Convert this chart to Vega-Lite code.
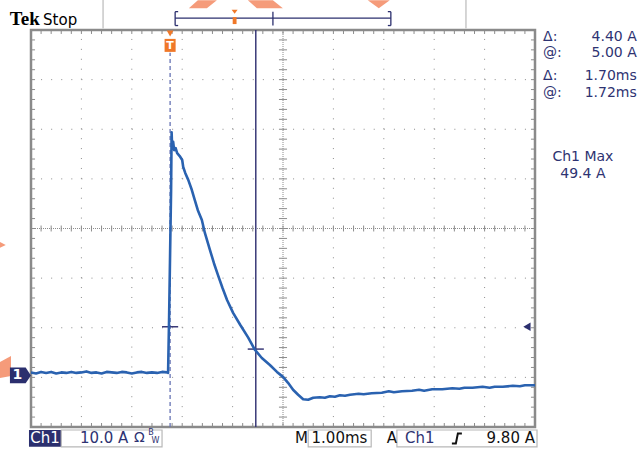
{
  "$schema": "https://vega.github.io/schema/vega-lite/v6.json",
  "width": 504,
  "height": 397,
  "autosize": "none",
  "padding": {"left": 31, "top": 30, "right": 108, "bottom": 22},
  "background": "#ffffff",
  "config": {"view": {"stroke": null}, "axis": {"disable": true}, "text": {"font": "DejaVu Sans"}},
  "datasets": {
    "gx": [{"v": 1}, {"v": 2}, {"v": 3}, {"v": 4}, {"v": 6}, {"v": 7}, {"v": 8}, {"v": 9}],
    "gy": [{"v": 0}, {"v": 10}, {"v": 20}, {"v": 40}, {"v": 50}, {"v": 60}],
    "xt": [{"v": 0.2}, {"v": 0.4}, {"v": 0.6}, {"v": 0.8}, {"v": 1}, {"v": 1.2}, {"v": 1.4}, {"v": 1.6}, {"v": 1.8}, {"v": 2}, {"v": 2.2}, {"v": 2.4}, {"v": 2.6}, {"v": 2.8}, {"v": 3}, {"v": 3.2}, {"v": 3.4}, {"v": 3.6}, {"v": 3.8}, {"v": 4}, {"v": 4.2}, {"v": 4.4}, {"v": 4.6}, {"v": 4.8}, {"v": 5}, {"v": 5.2}, {"v": 5.4}, {"v": 5.6}, {"v": 5.8}, {"v": 6}, {"v": 6.2}, {"v": 6.4}, {"v": 6.6}, {"v": 6.8}, {"v": 7}, {"v": 7.2}, {"v": 7.4}, {"v": 7.6}, {"v": 7.8}, {"v": 8}, {"v": 8.2}, {"v": 8.4}, {"v": 8.6}, {"v": 8.8}, {"v": 9}, {"v": 9.2}, {"v": 9.4}, {"v": 9.6}, {"v": 9.8}],
    "yt": [{"v": -8}, {"v": -6}, {"v": -4}, {"v": -2}, {"v": 0}, {"v": 2}, {"v": 4}, {"v": 6}, {"v": 8}, {"v": 10}, {"v": 12}, {"v": 14}, {"v": 16}, {"v": 18}, {"v": 20}, {"v": 22}, {"v": 24}, {"v": 26}, {"v": 28}, {"v": 30}, {"v": 32}, {"v": 34}, {"v": 36}, {"v": 38}, {"v": 40}, {"v": 42}, {"v": 44}, {"v": 46}, {"v": 48}, {"v": 50}, {"v": 52}, {"v": 54}, {"v": 56}, {"v": 58}, {"v": 60}, {"v": 62}, {"v": 64}, {"v": 66}, {"v": 68}],
    "wave": [
      {"t": 0, "a": 1.0}, {"t": 0.1, "a": 0.8}, {"t": 0.2, "a": 1.1}, {"t": 0.3, "a": 0.9}, {"t": 0.4, "a": 1.1}, {"t": 0.5, "a": 0.8}, {"t": 0.6, "a": 1.0}, {"t": 0.7, "a": 0.9}, {"t": 0.8, "a": 1.1}, {"t": 0.9, "a": 0.9},
      {"t": 1.0, "a": 1.0}, {"t": 1.1, "a": 1.2}, {"t": 1.2, "a": 0.9}, {"t": 1.3, "a": 1.0}, {"t": 1.4, "a": 0.8}, {"t": 1.5, "a": 1.1}, {"t": 1.6, "a": 1.0}, {"t": 1.7, "a": 0.9}, {"t": 1.8, "a": 1.1}, {"t": 1.9, "a": 1.0},
      {"t": 2.0, "a": 0.8}, {"t": 2.1, "a": 1.0}, {"t": 2.2, "a": 1.1}, {"t": 2.3, "a": 0.9}, {"t": 2.4, "a": 1.0}, {"t": 2.5, "a": 0.9}, {"t": 2.6, "a": 1.1}, {"t": 2.7, "a": 1.0}, {"t": 2.72, "a": 0.9},
      {"t": 2.74, "a": 12}, {"t": 2.76, "a": 25}, {"t": 2.78, "a": 38}, {"t": 2.79, "a": 49.4}, {"t": 2.80, "a": 46.5}, {"t": 2.82, "a": 47.5}, {"t": 2.84, "a": 45.8}, {"t": 2.87, "a": 46.2}, {"t": 2.90, "a": 45.2},
      {"t": 2.95, "a": 44.6}, {"t": 3.00, "a": 43.8}, {"t": 3.02, "a": 42.4}, {"t": 3.06, "a": 41.2}, {"t": 3.12, "a": 39.8}, {"t": 3.19, "a": 37.8}, {"t": 3.25, "a": 35.7}, {"t": 3.31, "a": 33.7}, {"t": 3.39, "a": 31.7}, {"t": 3.45, "a": 29.1},
      {"t": 3.55, "a": 25.7}, {"t": 3.63, "a": 23.0}, {"t": 3.71, "a": 20.6}, {"t": 3.80, "a": 18.0}, {"t": 3.89, "a": 15.6}, {"t": 4.01, "a": 13.0}, {"t": 4.15, "a": 10.6}, {"t": 4.31, "a": 8.0}, {"t": 4.44, "a": 5.6}, {"t": 4.58, "a": 3.9},
      {"t": 4.74, "a": 2.5}, {"t": 4.88, "a": 1.1}, {"t": 5.00, "a": 0.1}, {"t": 5.10, "a": -1.1}, {"t": 5.20, "a": -2.5}, {"t": 5.30, "a": -3.5}, {"t": 5.40, "a": -4.4}, {"t": 5.50, "a": -4.5}, {"t": 5.60, "a": -4.1}, {"t": 5.73, "a": -4.0},
      {"t": 5.83, "a": -4.1}, {"t": 5.93, "a": -3.8}, {"t": 6.03, "a": -3.9}, {"t": 6.13, "a": -3.6}, {"t": 6.23, "a": -3.7}, {"t": 6.33, "a": -3.5}, {"t": 6.5, "a": -3.3}, {"t": 6.6, "a": -3.4}, {"t": 6.76, "a": -3.2}, {"t": 6.96, "a": -3.1},
      {"t": 7.1, "a": -2.8}, {"t": 7.2, "a": -3.0}, {"t": 7.36, "a": -2.8}, {"t": 7.56, "a": -2.7}, {"t": 7.7, "a": -2.5}, {"t": 7.8, "a": -2.7}, {"t": 7.96, "a": -2.4}, {"t": 8.16, "a": -2.4}, {"t": 8.36, "a": -2.2}, {"t": 8.5, "a": -2.3},
      {"t": 8.6, "a": -2.1}, {"t": 8.76, "a": -2.1}, {"t": 8.96, "a": -1.9}, {"t": 9.1, "a": -2.1}, {"t": 9.2, "a": -1.9}, {"t": 9.36, "a": -1.9}, {"t": 9.56, "a": -1.7}, {"t": 9.7, "a": -1.8}, {"t": 9.8, "a": -1.6}, {"t": 10.0, "a": -1.6}
    ]
  },
  "layer": [
    {
      "data": {"name": "gx"},
      "mark": {"type": "rule", "stroke": "#8c8c8c", "strokeWidth": 1, "strokeDash": [1, 8.925]},
      "encoding": {
        "x": {"field": "v", "type": "quantitative", "scale": {"domain": [0, 10], "nice": false, "zero": false}},
        "y": {"datum": -10, "type": "quantitative", "scale": {"domain": [-10, 70], "nice": false, "zero": false}},
        "y2": {"datum": 70}
      }
    },
    {
      "data": {"name": "gy"},
      "mark": {"type": "rule", "stroke": "#8c8c8c", "strokeWidth": 1, "strokeDash": [1, 9.08]},
      "encoding": {"y": {"field": "v", "type": "quantitative"}, "x": {"datum": 0, "type": "quantitative"}, "x2": {"datum": 10}}
    },
    {
      "data": {"values": [{}]},
      "mark": {"type": "rule", "stroke": "#8c8c8c", "strokeWidth": 1, "strokeDash": [1, 1]},
      "encoding": {"x": {"datum": 5, "type": "quantitative"}, "y": {"datum": -10, "type": "quantitative"}, "y2": {"datum": 70}}
    },
    {
      "data": {"values": [{}]},
      "mark": {"type": "rule", "stroke": "#8c8c8c", "strokeWidth": 1, "strokeDash": [1, 1]},
      "encoding": {"y": {"datum": 30, "type": "quantitative"}, "x": {"datum": 0, "type": "quantitative"}, "x2": {"datum": 10}}
    },
    {
      "data": {"name": "xt"},
      "mark": {"type": "rule", "stroke": "#8c8c8c", "strokeWidth": 1},
      "encoding": {"x": {"field": "v", "type": "quantitative"}, "y": {"datum": 29.4, "type": "quantitative"}, "y2": {"datum": 30.6}}
    },
    {
      "data": {"name": "xt"},
      "mark": {"type": "rule", "stroke": "#8c8c8c", "strokeWidth": 1},
      "encoding": {"x": {"field": "v", "type": "quantitative"}, "y": {"datum": 70, "type": "quantitative"}, "y2": {"datum": 69.2}}
    },
    {
      "data": {"name": "xt"},
      "mark": {"type": "rule", "stroke": "#8c8c8c", "strokeWidth": 1},
      "encoding": {"x": {"field": "v", "type": "quantitative"}, "y": {"datum": -10, "type": "quantitative"}, "y2": {"datum": -9.2}}
    },
    {
      "data": {"name": "yt"},
      "mark": {"type": "rule", "stroke": "#8c8c8c", "strokeWidth": 1},
      "encoding": {"y": {"field": "v", "type": "quantitative"}, "x": {"datum": 4.92, "type": "quantitative"}, "x2": {"datum": 5.08}}
    },
    {
      "data": {"name": "yt"},
      "mark": {"type": "rule", "stroke": "#8c8c8c", "strokeWidth": 1},
      "encoding": {"y": {"field": "v", "type": "quantitative"}, "x": {"datum": 0, "type": "quantitative"}, "x2": {"datum": 0.08}}
    },
    {
      "data": {"name": "yt"},
      "mark": {"type": "rule", "stroke": "#8c8c8c", "strokeWidth": 1},
      "encoding": {"y": {"field": "v", "type": "quantitative"}, "x": {"datum": 10, "type": "quantitative"}, "x2": {"datum": 9.92}}
    },
    {
      "data": {"values": [{}]},
      "mark": {"type": "rect", "fillOpacity": 0, "stroke": "#8a8a8a", "strokeWidth": 2.5},
      "encoding": {"x": {"datum": 0, "type": "quantitative"}, "x2": {"datum": 10}, "y": {"datum": -10, "type": "quantitative"}, "y2": {"datum": 70}}
    },
    {
      "data": {"values": [{"x": 1.43}, {"x": 8.63}]},
      "mark": {"type": "rule", "stroke": "#c8c8c8", "strokeWidth": 1.5},
      "encoding": {"x": {"field": "x", "type": "quantitative"}, "y": {"datum": 70.3, "type": "quantitative"}, "y2": {"datum": 76.1}}
    },
    {
      "data": {"values": [{}]},
      "mark": {"type": "rule", "stroke": "#6674b4", "strokeWidth": 1.3, "strokeDash": [4, 3]},
      "encoding": {"x": {"datum": 2.76, "type": "quantitative"}, "y": {"datum": -10, "type": "quantitative"}, "y2": {"datum": 65.4}}
    },
    {
      "data": {"values": [{}]},
      "mark": {"type": "rule", "stroke": "#3a3a78", "strokeWidth": 1.5},
      "encoding": {"x": {"datum": 4.46, "type": "quantitative"}, "y": {"datum": -10, "type": "quantitative"}, "y2": {"datum": 70}}
    },
    {
      "data": {"values": [{"c": "trigger", "t0": 2.6, "t1": 2.92, "a": 10.2}, {"c": "cursor", "t0": 4.3, "t1": 4.62, "a": 5.7}]},
      "mark": {"type": "rule", "stroke": "#3a3a78", "strokeWidth": 1.5},
      "encoding": {"x": {"field": "t0", "type": "quantitative"}, "x2": {"field": "t1"}, "y": {"field": "a", "type": "quantitative"}}
    },
    {
      "data": {"name": "wave"},
      "mark": {"type": "line", "stroke": "#2a62b0", "strokeWidth": 2.6, "strokeJoin": "round"},
      "encoding": {"x": {"field": "t", "type": "quantitative"}, "y": {"field": "a", "type": "quantitative"}, "order": {"field": "t"}}
    },
    {
      "data": {"values": [{}]},
      "mark": {"type": "point", "shape": "M-1,0.286L-0.357,-0.286L1,-0.286L0.286,0.286Z", "size": 784, "filled": true, "fill": "#f59b7a", "opacity": 1, "strokeWidth": 0},
      "encoding": {"x": {"datum": 3.41, "type": "quantitative"}, "y": {"datum": 75.2, "type": "quantitative"}}
    },
    {
      "data": {"values": [{}]},
      "mark": {"type": "point", "shape": "M-1,-0.229L0.429,-0.229L1,0.229L-0.486,0.229Z", "size": 1225, "filled": true, "fill": "#f59b7a", "opacity": 1, "strokeWidth": 0},
      "encoding": {"x": {"datum": 4.65, "type": "quantitative"}, "y": {"datum": 75.2, "type": "quantitative"}}
    },
    {
      "data": {"values": [{}]},
      "mark": {"type": "point", "shape": "M-1,-0.364L1,-0.364L0,0.364Z", "size": 484, "filled": true, "fill": "#f59b7a", "opacity": 1, "strokeWidth": 0},
      "encoding": {"x": {"datum": 6.9, "type": "quantitative"}, "y": {"datum": 75.2, "type": "quantitative"}}
    },
    {
      "data": {"values": [{}]},
      "mark": {"type": "point", "shape": "M-0.458,-0.5L0.458,-1L0.458,0.667L-0.458,0.833Z", "size": 576, "filled": true, "fill": "#f59b7a", "opacity": 1, "strokeWidth": 0},
      "encoding": {"x": {"datum": -0.506, "type": "quantitative"}, "y": {"datum": 1.9, "type": "quantitative"}}
    },
    {
      "data": {"values": [{}]},
      "mark": {"type": "point", "shape": "M-1,-1L1,0L-1,1Z", "size": 64, "filled": true, "fill": "#f59b7a", "opacity": 1, "strokeWidth": 0},
      "encoding": {"x": {"datum": -0.58, "type": "quantitative"}, "y": {"datum": 26.7, "type": "quantitative"}}
    },
    {
      "data": {"values": [{}]},
      "mark": {"type": "point", "shape": "M-1,-0.75L0.5,-0.75L1,0L0.5,0.75L-1,0.75Z", "size": 441, "filled": true, "fill": "#2b2f6e", "opacity": 1, "strokeWidth": 0},
      "encoding": {"x": {"datum": -0.21, "type": "quantitative"}, "y": {"datum": 0.4, "type": "quantitative"}}
    },
    {
      "data": {"values": [{}]},
      "mark": {"type": "text", "text": "1", "color": "#ffffff", "fontSize": 14, "fontWeight": "bold", "align": "center", "baseline": "middle"},
      "encoding": {"x": {"datum": -0.27, "type": "quantitative"}, "y": {"datum": 0.4, "type": "quantitative"}}
    },
    {
      "data": {"values": [{}]},
      "mark": {"type": "point", "shape": "triangle-left", "size": 70, "filled": true, "fill": "#2b2f6e", "opacity": 1, "strokeWidth": 0},
      "encoding": {"x": {"datum": 9.84, "type": "quantitative"}, "y": {"datum": 10.2, "type": "quantitative"}}
    },
    {
      "data": {"values": [{}]},
      "mark": {"type": "point", "shape": "triangle-down", "size": 45, "filled": true, "fill": "#f07828", "opacity": 1, "strokeWidth": 0},
      "encoding": {"x": {"datum": 2.76, "type": "quantitative"}, "y": {"datum": 69.3, "type": "quantitative"}}
    },
    {
      "data": {"values": [{}]},
      "mark": {"type": "point", "shape": "M-0.85,-1L0.85,-1L0.85,1L-0.85,1Z", "size": 169, "filled": true, "fill": "#f07828", "opacity": 1, "strokeWidth": 0},
      "encoding": {"x": {"datum": 2.76, "type": "quantitative"}, "y": {"datum": 66.9, "type": "quantitative"}}
    },
    {
      "data": {"values": [{}]},
      "mark": {"type": "text", "text": "T", "color": "#ffffff", "fontSize": 11, "fontWeight": "bold", "align": "center", "baseline": "middle"},
      "encoding": {"x": {"datum": 2.76, "type": "quantitative"}, "y": {"datum": 66.8, "type": "quantitative"}}
    },
    {
      "data": {"values": [{}]},
      "mark": {"type": "rule", "stroke": "#2b2f6e", "strokeWidth": 1.3},
      "encoding": {"x": {"datum": 2.86, "type": "quantitative"}, "x2": {"datum": 7.14}, "y": {"datum": 72.4, "type": "quantitative"}}
    },
    {
      "data": {"values": [{"x": 2.86}, {"x": 4.8}, {"x": 7.14}]},
      "mark": {"type": "rule", "stroke": "#2b2f6e", "strokeWidth": 1.3},
      "encoding": {"x": {"field": "x", "type": "quantitative"}, "y": {"datum": 70.9, "type": "quantitative"}, "y2": {"datum": 73.7}}
    },
    {
      "data": {"values": [{"x0": 2.86, "x1": 2.92, "y": 73.7}, {"x0": 2.86, "x1": 2.92, "y": 70.9}, {"x0": 7.08, "x1": 7.14, "y": 73.7}, {"x0": 7.08, "x1": 7.14, "y": 70.9}]},
      "mark": {"type": "rule", "stroke": "#2b2f6e", "strokeWidth": 1.3},
      "encoding": {"x": {"field": "x0", "type": "quantitative"}, "x2": {"field": "x1"}, "y": {"field": "y", "type": "quantitative"}}
    },
    {
      "data": {"values": [{}]},
      "mark": {"type": "point", "shape": "M-0.55,-1L0.55,-1L0.55,1L-0.55,1Z", "size": 49, "filled": true, "fill": "#f07828", "opacity": 1, "strokeWidth": 0},
      "encoding": {"x": {"datum": 4.04, "type": "quantitative"}, "y": {"datum": 71.9, "type": "quantitative"}}
    },
    {
      "data": {"values": [{}]},
      "mark": {"type": "point", "shape": "M-1,-1L1,-1L0,0.4Z", "size": 36, "filled": true, "fill": "#f07828", "opacity": 1, "strokeWidth": 0},
      "encoding": {"x": {"datum": 4.04, "type": "quantitative"}, "y": {"datum": 73.5, "type": "quantitative"}}
    },
    {
      "data": {"values": [{}]},
      "mark": {"type": "text", "text": "Tek", "font": "Liberation Serif", "fontWeight": "bold", "fontSize": 19, "color": "#000000", "align": "left", "baseline": "alphabetic"},
      "encoding": {"x": {"datum": -0.42, "type": "quantitative"}, "y": {"datum": 71.0, "type": "quantitative"}}
    },
    {
      "data": {"values": [{}]},
      "mark": {"type": "text", "text": "Stop", "fontSize": 15, "color": "#000000", "align": "left", "baseline": "alphabetic"},
      "encoding": {"x": {"datum": 0.24, "type": "quantitative"}, "y": {"datum": 71.0, "type": "quantitative"}}
    },
    {
      "data": {"values": [{}]},
      "mark": {"type": "text", "text": "Δ:", "fontSize": 14, "color": "#2e3372", "align": "left", "baseline": "middle"},
      "encoding": {"x": {"datum": 10.16, "type": "quantitative"}, "y": {"datum": 68.6, "type": "quantitative"}}
    },
    {
      "data": {"values": [{}]},
      "mark": {"type": "text", "text": "4.40 A", "fontSize": 14, "color": "#2e3372", "align": "right", "baseline": "middle"},
      "encoding": {"x": {"datum": 12.02, "type": "quantitative"}, "y": {"datum": 68.6, "type": "quantitative"}}
    },
    {
      "data": {"values": [{}]},
      "mark": {"type": "text", "text": "@:", "fontSize": 14, "color": "#2e3372", "align": "left", "baseline": "middle"},
      "encoding": {"x": {"datum": 10.16, "type": "quantitative"}, "y": {"datum": 65.4, "type": "quantitative"}}
    },
    {
      "data": {"values": [{}]},
      "mark": {"type": "text", "text": "5.00 A", "fontSize": 14, "color": "#2e3372", "align": "right", "baseline": "middle"},
      "encoding": {"x": {"datum": 12.02, "type": "quantitative"}, "y": {"datum": 65.4, "type": "quantitative"}}
    },
    {
      "data": {"values": [{}]},
      "mark": {"type": "text", "text": "Δ:", "fontSize": 14, "color": "#2e3372", "align": "left", "baseline": "middle"},
      "encoding": {"x": {"datum": 10.16, "type": "quantitative"}, "y": {"datum": 60.8, "type": "quantitative"}}
    },
    {
      "data": {"values": [{}]},
      "mark": {"type": "text", "text": "1.70ms", "fontSize": 14, "color": "#2e3372", "align": "right", "baseline": "middle"},
      "encoding": {"x": {"datum": 12.02, "type": "quantitative"}, "y": {"datum": 60.8, "type": "quantitative"}}
    },
    {
      "data": {"values": [{}]},
      "mark": {"type": "text", "text": "@:", "fontSize": 14, "color": "#2e3372", "align": "left", "baseline": "middle"},
      "encoding": {"x": {"datum": 10.16, "type": "quantitative"}, "y": {"datum": 57.4, "type": "quantitative"}}
    },
    {
      "data": {"values": [{}]},
      "mark": {"type": "text", "text": "1.72ms", "fontSize": 14, "color": "#2e3372", "align": "right", "baseline": "middle"},
      "encoding": {"x": {"datum": 12.02, "type": "quantitative"}, "y": {"datum": 57.4, "type": "quantitative"}}
    },
    {
      "data": {"values": [{}]},
      "mark": {"type": "text", "text": "Ch1 Max", "fontSize": 14, "color": "#2e3372", "align": "center", "baseline": "middle"},
      "encoding": {"x": {"datum": 10.95, "type": "quantitative"}, "y": {"datum": 44.4, "type": "quantitative"}}
    },
    {
      "data": {"values": [{}]},
      "mark": {"type": "text", "text": "49.4 A", "fontSize": 14, "color": "#2e3372", "align": "center", "baseline": "middle"},
      "encoding": {"x": {"datum": 10.95, "type": "quantitative"}, "y": {"datum": 41.0, "type": "quantitative"}}
    },
    {
      "data": {"values": [{}]},
      "mark": {"type": "rect", "fill": "#2b2f6e", "opacity": 1},
      "encoding": {"x": {"datum": -0.04, "type": "quantitative"}, "x2": {"datum": 0.6}, "y": {"datum": -10.6, "type": "quantitative"}, "y2": {"datum": -14.0}}
    },
    {
      "data": {"values": [{"x0": 0.6, "x1": 2.6}, {"x0": 5.5, "x1": 6.75}, {"x0": 7.26, "x1": 10.04}]},
      "mark": {"type": "rect", "fillOpacity": 0, "stroke": "#b8b8b8", "strokeWidth": 1.2},
      "encoding": {"x": {"field": "x0", "type": "quantitative"}, "x2": {"field": "x1"}, "y": {"datum": -10.6, "type": "quantitative"}, "y2": {"datum": -14.0}}
    },
    {
      "data": {"values": [{}]},
      "mark": {"type": "text", "text": "Ch1", "fontSize": 15, "color": "#ffffff", "align": "center", "baseline": "middle"},
      "encoding": {"x": {"datum": 0.28, "type": "quantitative"}, "y": {"datum": -12.3, "type": "quantitative"}}
    },
    {
      "data": {"values": [{}]},
      "mark": {"type": "text", "text": "10.0 A", "fontSize": 15, "color": "#2e3372", "align": "left", "baseline": "middle"},
      "encoding": {"x": {"datum": 0.97, "type": "quantitative"}, "y": {"datum": -12.3, "type": "quantitative"}}
    },
    {
      "data": {"values": [{}]},
      "mark": {"type": "text", "text": "Ω", "fontSize": 14, "color": "#2e3372", "align": "center", "baseline": "middle"},
      "encoding": {"x": {"datum": 2.15, "type": "quantitative"}, "y": {"datum": -12.3, "type": "quantitative"}}
    },
    {
      "data": {"values": [{}]},
      "mark": {"type": "text", "text": "B", "fontSize": 8, "color": "#2e3372", "align": "center", "baseline": "middle"},
      "encoding": {"x": {"datum": 2.38, "type": "quantitative"}, "y": {"datum": -11.3, "type": "quantitative"}}
    },
    {
      "data": {"values": [{}]},
      "mark": {"type": "text", "text": "W", "fontSize": 8, "color": "#2e3372", "align": "center", "baseline": "middle"},
      "encoding": {"x": {"datum": 2.47, "type": "quantitative"}, "y": {"datum": -12.9, "type": "quantitative"}}
    },
    {
      "data": {"values": [{}]},
      "mark": {"type": "text", "text": "M", "fontSize": 15, "color": "#111111", "align": "left", "baseline": "middle"},
      "encoding": {"x": {"datum": 5.24, "type": "quantitative"}, "y": {"datum": -12.3, "type": "quantitative"}}
    },
    {
      "data": {"values": [{}]},
      "mark": {"type": "text", "text": "1.00ms", "fontSize": 15, "color": "#111111", "align": "center", "baseline": "middle"},
      "encoding": {"x": {"datum": 6.12, "type": "quantitative"}, "y": {"datum": -12.3, "type": "quantitative"}}
    },
    {
      "data": {"values": [{}]},
      "mark": {"type": "text", "text": "A", "fontSize": 15, "color": "#111111", "align": "left", "baseline": "middle"},
      "encoding": {"x": {"datum": 7.06, "type": "quantitative"}, "y": {"datum": -12.3, "type": "quantitative"}}
    },
    {
      "data": {"values": [{}]},
      "mark": {"type": "text", "text": "Ch1", "fontSize": 15, "color": "#2e3372", "align": "left", "baseline": "middle"},
      "encoding": {"x": {"datum": 7.42, "type": "quantitative"}, "y": {"datum": -12.3, "type": "quantitative"}}
    },
    {
      "data": {"values": [{}]},
      "mark": {"type": "point", "shape": "M-1,1L-0.2,1L0.2,-1L1,-1", "size": 100, "filled": false, "stroke": "#111111", "strokeWidth": 2, "opacity": 1},
      "encoding": {"x": {"datum": 8.45, "type": "quantitative"}, "y": {"datum": -12.3, "type": "quantitative"}}
    },
    {
      "data": {"values": [{}]},
      "mark": {"type": "text", "text": "9.80 A", "fontSize": 15, "color": "#111111", "align": "right", "baseline": "middle"},
      "encoding": {"x": {"datum": 10.0, "type": "quantitative"}, "y": {"datum": -12.3, "type": "quantitative"}}
    }
  ]
}
